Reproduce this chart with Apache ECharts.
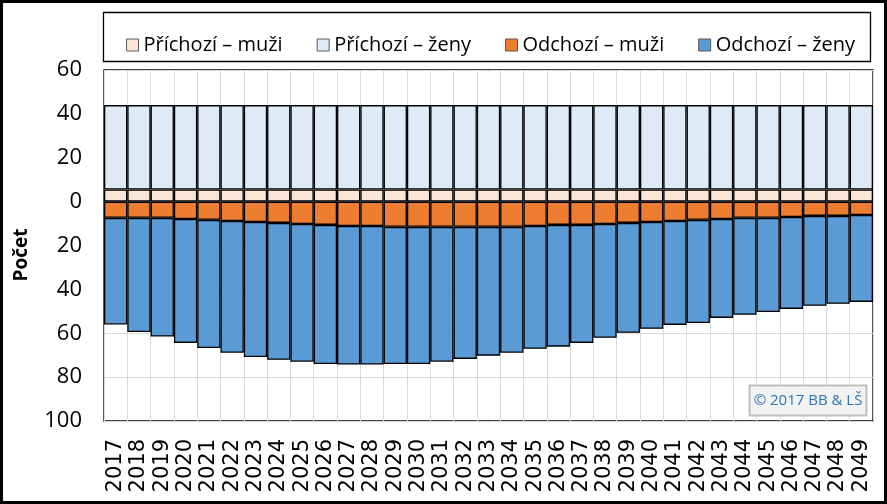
<!DOCTYPE html>
<html>
<head>
<meta charset="utf-8">
<script src="https://cdn.jsdelivr.net/npm/echarts@6/dist/echarts.min.js"></script>
<style>
html, body { margin: 0; padding: 0; background: #fff; }
#chart { width: 887px; height: 504px; }
</style>
</head>
<body>
<div id="chart"></div>
<script>
// roky
var years = ['2017', '2018', '2019', '2020', '2021', '2022', '2023', '2024', '2025', '2026', '2027',
  '2028', '2029', '2030', '2031', '2032', '2033', '2034', '2035', '2036', '2037', '2038',
  '2039', '2040', '2041', '2042', '2043', '2044', '2045', '2046', '2047', '2048', '2049']

// prichozi (kladne)
var arrMen = [5.5, 5.5, 5.5, 5.5, 5.5, 5.5, 5.5, 5.5, 5.5, 5.5, 5.5,
  5.5, 5.5, 5.5, 5.5, 5.5, 5.5, 5.5, 5.5, 5.5, 5.5, 5.5,
  5.5, 5.5, 5.5, 5.5, 5.5, 5.5, 5.5, 5.5, 5.5, 5.5, 5.5]
var arrWomen = [38.5, 38.5, 38.5, 38.5, 38.5, 38.5, 38.5, 38.5, 38.5, 38.5, 38.5,
  38.5, 38.5, 38.5, 38.5, 38.5, 38.5, 38.5, 38.5, 38.5, 38.5, 38.5,
  38.5, 38.5, 38.5, 38.5, 38.5, 38.5, 38.5, 38.5, 38.5, 38.5, 38.5]

// odchozi (zaporne)
var depMen = [-7.4, -7.4, -7.4, -7.9, -8.3, -8.8, -9.3, -9.7, -10.2, -10.6, -11.1,
  -11.1, -11.5, -11.5, -11.5, -11.5, -11.5, -11.5, -11.1, -10.6, -10.6, -10.2,
  -9.7, -9.3, -8.8, -8.3, -7.9, -7.4, -7.4, -7.0, -6.5, -6.5, -6.1]
var depWomen = [-48.6, -52.0, -54.1, -56.5, -58.4, -60.1, -61.5, -62.4, -62.8, -63.4, -63.2,
  -63.2, -62.5, -62.5, -61.5, -60.2, -58.7, -57.4, -56.0, -55.5, -53.8, -51.9,
  -50.1, -48.7, -47.4, -47.0, -45.1, -44.2, -42.9, -41.9, -41.0, -40.1, -39.6]

var yTicks = [-100, -80, -60, -40, -20, 0, 20, 40, 60]

var chartDom = document.getElementById('chart')
var myChart = echarts.init(chartDom, null, { renderer: 'canvas' })
var option

var FONT = '"Open Sans", "DejaVu Sans", sans-serif'

function barSeries(name, data, color) {
  return {
    name: name,
    type: 'bar',
    stack: 'total',
    barCategoryGap: 0,
    data: data,
    itemStyle: {
      color: color,
      borderColor: '#000',
      borderWidth: 1.3
    },
    emphasis: { disabled: true }
  }
}

option = {
  animation: false,
  backgroundColor: '#fff',
  textStyle: { fontFamily: FONT },
  grid: {
    left: 104,
    right: 14,
    top: 70,
    bottom: 83,
    show: true,
    borderColor: '#000',
    borderWidth: 1.3,
    containLabel: false
  },
  legend: {
    left: 121,
    top: 30,
    width: 760,
    itemWidth: 12,
    itemHeight: 12,
    itemGap: 34,
    icon: 'rect',
    itemStyle: { borderColor: '#595959', borderWidth: 1 },
    textStyle: { fontFamily: FONT, fontSize: 20, color: '#000' },
    data: ['Příchozí – muži', 'Příchozí – ženy', 'Odchozí – muži', 'Odchozí – ženy']
  },
  xAxis: {
    type: 'category',
    data: years,
    boundaryGap: true,
    axisLine: { show: false },
    axisTick: { show: false },
    splitLine: { show: true, lineStyle: { color: '#d9d9d9', width: 1 } },
    axisLabel: {
      rotate: 90,
      interval: 0,
      margin: 18,
      fontFamily: '"DejaVu Sans", sans-serif',
      fontSize: 21,
      color: '#000'
    }
  },
  yAxis: {
    type: 'value',
    min: yTicks[0],
    max: yTicks[yTicks.length - 1],
    interval: 20,
    axisLine: { show: false },
    axisTick: { show: false },
    splitLine: { show: true, lineStyle: { color: '#d9d9d9', width: 1 } },
    axisLabel: {
      margin: 22,
      fontFamily: FONT,
      fontSize: 22,
      color: '#000',
      formatter: function(v) { return String(Math.abs(v)) }
    }
  },
  graphic: [
    // okraj celeho grafu
    {
      type: 'rect',
      shape: { x: 1.5, y: 1.5, width: 884, height: 501 },
      style: { fill: null, stroke: '#000', lineWidth: 3 },
      silent: true,
      z: 100
    },
    // ramecek legendy
    {
      type: 'rect',
      shape: { x: 103.5, y: 12.5, width: 767, height: 49 },
      style: { fill: null, stroke: '#000', lineWidth: 1.3 },
      silent: true,
      z: 100
    },
    {
      type: 'text',
      x: 22,
      y: 255,
      rotation: Math.PI / 2,
      style: {
        text: 'Počet',
        fontFamily: FONT,
        fontSize: 19,
        fontWeight: 'bold',
        fill: '#000',
        align: 'center',
        verticalAlign: 'middle'
      }
    },
    // copyright
    {
      type: 'rect',
      shape: { x: 749.5, y: 385.5, width: 117, height: 30 },
      style: { fill: '#f2f2f2', stroke: '#bfbfbf', lineWidth: 2 },
      silent: true,
      z: 100
    },
    {
      type: 'text',
      x: 808,
      y: 401,
      z: 101,
      style: {
        text: '© 2017 BB & LŠ',
        fontFamily: FONT,
        fontSize: 15,
        fill: '#2e75b6',
        align: 'center',
        verticalAlign: 'middle'
      }
    }
  ],
  series: [
    barSeries('Příchozí – muži', arrMen, '#fbe5d6'),
    barSeries('Příchozí – ženy', arrWomen, '#deebf7'),
    barSeries('Odchozí – muži', depMen, '#ed7d31'),
    barSeries('Odchozí – ženy', depWomen, '#5b9bd5')
  ]
}

option && myChart.setOption(option)
</script>
</body>
</html>
